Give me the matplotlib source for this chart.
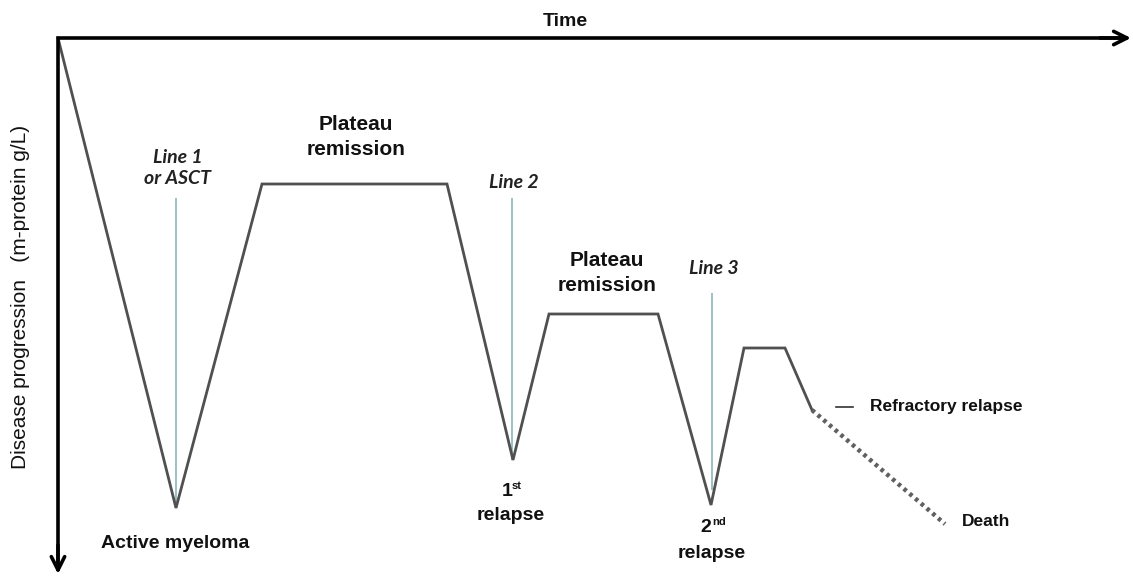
import matplotlib
matplotlib.use("Agg")
import matplotlib.pyplot as plt

# disease course, in picture units (x = time, y = depth downward)
time = [58, 176, 262, 447, 513, 549, 658, 711, 744, 785, 812]
level = [38, 508, 184, 184, 460, 314, 314, 505, 348, 348, 410]
death_time = [812, 945]
death_level = [410, 524]

# treatment lines: x, top, bottom
treat_x = [176, 512, 712]
treat_top = [198, 198, 293]
treat_bottom = [508, 460, 490]
treat_labels = ["Line 1\nor ASCT", "Line 2", "Line 3"]

FONT = "Liberation Sans"
DARK = "#111111"

fig = plt.figure(figsize=(11.33, 5.76), dpi=100)
ax = fig.add_axes([0, 0, 1, 1])
ax.set_xlim(0, 1133)
ax.set_ylim(576, 0)
ax.axis("off")

# axes: one polyline plus two open arrow heads
ax.plot([58, 58, 1126], [571, 38, 38], color="black", lw=2.6,
        solid_joinstyle="miter", solid_capstyle="butt", zorder=4)
akw = dict(arrowstyle="->", lw=2.6, color="black", mutation_scale=24,
           shrinkA=0, shrinkB=0)
ax.annotate("", xy=(1131, 38), xytext=(1100, 38), arrowprops=akw)
ax.annotate("", xy=(58, 574), xytext=(58, 545), arrowprops=akw)

# treatment markers
ax.vlines(treat_x, treat_top, treat_bottom, color="#7fb0b5", lw=1.1, zorder=2)

# disease curve
ax.plot(time, level, color="#505050", lw=2.0, solid_joinstyle="miter", zorder=3)
ax.plot(death_time, death_level, color="#606060", lw=3.2, ls=(0, (0.8, 0.9)), zorder=3)
ax.plot([836, 853], [407, 407], color="#333333", lw=1.2)

tkw = dict(family=FONT, weight="bold", color=DARK, ha="center", va="center")
ax.text(565, 21, "Time", fontsize=14, **tkw)
ax.text(21, 297, "Disease progression   (m-protein g/L)", rotation=90,
        family=FONT, fontsize=15, color=DARK, ha="center", va="center")

ax.text(356, 137, "Plateau\nremission", fontsize=15, linespacing=1.4, **tkw)
ax.text(607, 273, "Plateau\nremission", fontsize=15, linespacing=1.4, **tkw)
ax.text(175, 543, "Active myeloma", fontsize=14, **tkw)
ax.text(511, 516, "relapse", fontsize=14, **tkw)
ax.text(507, 492, "1", fontsize=14, **tkw)
ax.text(517, 486, "st", fontsize=8, **tkw)
ax.text(712, 553, "relapse", fontsize=14, **tkw)
ax.text(706, 528, "2", fontsize=14, **tkw)
ax.text(719, 522, "nd", fontsize=8, **tkw)
ax.text(870, 407, "Refractory relapse", fontsize=12.5, family=FONT, weight="bold",
        color=DARK, ha="left", va="center")
ax.text(962, 522, "Death", fontsize=12.5, family=FONT, weight="bold",
        color=DARK, ha="left", va="center")

lab_y = [168, 183, 268]
for x, y, s in zip(treat_x, lab_y, treat_labels):
    ax.text(x + 2, y, s, fontsize=14, family="Lato", style="italic", weight="bold",
            color="#222222", ha="center", va="center", linespacing=1.3)

fig.savefig("out.png", dpi=100)
